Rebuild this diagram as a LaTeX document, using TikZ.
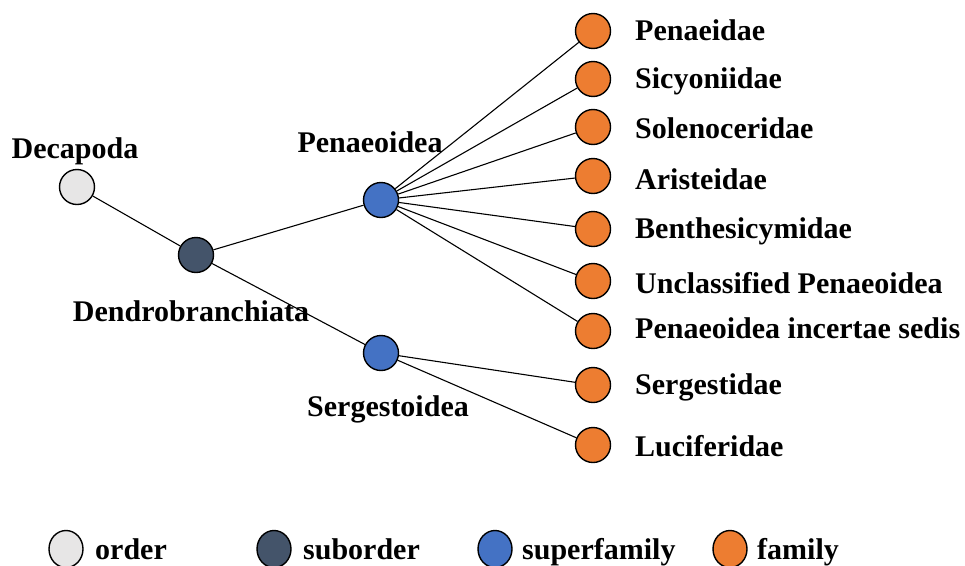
\documentclass[tikz,border=0pt]{standalone}
\usepackage{fontspec}
\setmainfont{Liberation Serif}
\usetikzlibrary{shapes.geometric}
\definecolor{ordercol}{HTML}{E7E6E6}
\definecolor{subordercol}{HTML}{44546A}
\definecolor{superfamcol}{HTML}{4472C4}
\definecolor{familycol}{HTML}{ED7D31}
\begin{document}
\begin{tikzpicture}[x=1pt,y=-1pt,
  taxon/.style={circle,draw=black,line width=1.4pt,minimum size=35pt,inner sep=0pt},
  legnode/.style={ellipse,draw=black,line width=1.4pt,minimum width=34pt,minimum height=37pt,inner sep=0pt},
  lbl/.style={font=\fontsize{30}{36}\selectfont\bfseries,inner sep=0pt},
  famlbl/.style={lbl,anchor=west},
  leglbl/.style={font=\fontsize{30}{36}\selectfont\bfseries,inner sep=0pt,anchor=base west},
  edge/.style={line width=1.1pt}]
\useasboundingbox (0,0) rectangle (965,565);
% nodes
\node[taxon,fill=ordercol] (deca) at (77,187) {};
\node[taxon,fill=subordercol] (dendro) at (196,255) {};
\node[taxon,fill=superfamcol] (penoid) at (381,200) {};
\node[taxon,fill=superfamcol] (serg) at (381,353) {};
\node[taxon,fill=familycol] (f1) at (593,31) {};
\node[taxon,fill=familycol] (f2) at (593,79) {};
\node[taxon,fill=familycol] (f3) at (593,127) {};
\node[taxon,fill=familycol] (f4) at (593,176) {};
\node[taxon,fill=familycol] (f5) at (593,229) {};
\node[taxon,fill=familycol] (f6) at (593,281) {};
\node[taxon,fill=familycol] (f7) at (593,331) {};
\node[taxon,fill=familycol] (f8) at (593,385) {};
\node[taxon,fill=familycol] (f9) at (593,445) {};
% edges
\draw[edge] (deca) -- (dendro);
\draw[edge] (dendro) -- (penoid);
\draw[edge] (dendro) -- (serg);
\foreach \f in {f1,f2,f3,f4,f5,f6,f7} \draw[edge] (penoid) -- (\f);
\foreach \f in {f8,f9} \draw[edge] (serg) -- (\f);
% labels
\node[lbl] (ldeca) at (75,151) {Decapoda};
\node[lbl] (ldendro) at (191,311) {Dendrobranchiata};
\node[lbl] (lpen) at (370,142) {Penaeoidea};
\node[lbl] (lserg) at (388,409) {Sergestoidea};
\node[famlbl] (l1) at (635,30) {Penaeidae};
\node[famlbl] (l2) at (635,81) {Sicyoniidae};
\node[famlbl] (l3) at (635,128) {Solenoceridae};
\node[famlbl] (l4) at (635,179) {Aristeidae};
\node[famlbl] (l5) at (635,231) {Benthesicymidae};
\node[famlbl] (l6) at (635,283) {Unclassified Penaeoidea};
\node[famlbl] (l7) at (635,328) {Penaeoidea incertae sedis};
\node[famlbl] (l8) at (635,387) {Sergestidae};
\node[famlbl] (l9) at (635,446) {Luciferidae};
% legend
\node[legnode,fill=ordercol] (g1) at (66,549) {};
\node[legnode,fill=subordercol] (g2) at (274,549) {};
\node[legnode,fill=superfamcol] (g3) at (495,549) {};
\node[legnode,fill=familycol] (g4) at (730,549) {};
\node[leglbl] (t1) at (95,559) {order};
\node[leglbl] (t2) at (303,559) {suborder};
\node[leglbl] (t3) at (522,559) {superfamily};
\node[leglbl] (t4) at (757,559) {family};
\end{tikzpicture}
\end{document}
